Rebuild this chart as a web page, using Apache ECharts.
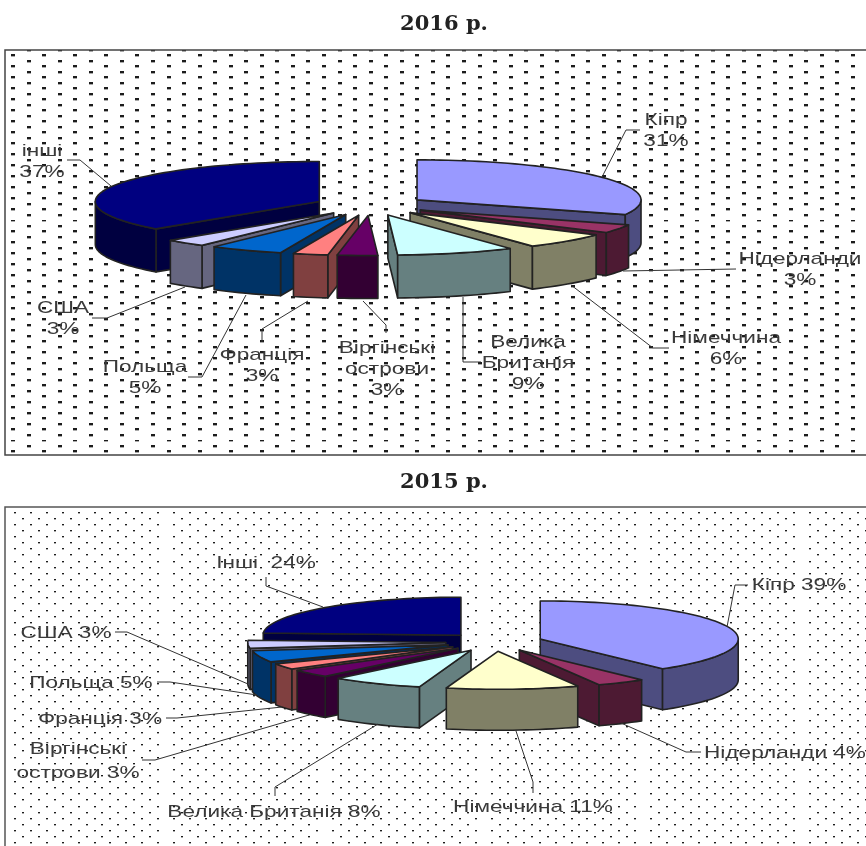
<!DOCTYPE html>
<html>
<head>
<meta charset="utf-8">
<style>
  html, body { margin: 0; padding: 0; background: #fff; }
  #chart { width: 866px; height: 846px; }
</style>
<script src="https://cdn.jsdelivr.net/npm/echarts@6/dist/echarts.min.js"></script>
</head>
<body>
<div id="chart"></div>
<script>
const categories = ["Кіпр", "Нідерланди", "Німеччина", "Велика Британія", "Віргінські острови", "Франція", "Польща", "США", "Інші"];
const values2016 = [31, 3.4, 6.4, 8.5, 2.9, 2.5, 5.3, 3, 37];
const values2015 = [39.4, 4, 10.8, 7.5, 3.4, 2.5, 4.9, 3.4, 24.1];
const topColors = ["#9999ff", "#993366", "#ffffcc", "#ccffff", "#660066", "#ff8080", "#0066cc", "#ccccff", "#000080"];
const wallColors = ["#4d4d80", "#4d1a33", "#808066", "#668080", "#330033", "#804040", "#003366", "#666680", "#000040"];

const labels2016 = ["Кіпр", "Нідерланди", "Німеччина", "Велика\nБританія", "Віргінські\nострови", "Франція", "Польща", "США", "інші"];
const labels2015 = ["Кіпр", "Нідерланди", "Німеччина", "Велика Британія", "Віргінські\nострови", "Франція", "Польща", "США", "Інші "];

// pie geometry of each panel
const pie2016 = { cx: 370.7, cy: 205.5, rx: 224, ry: 40, blast: 56, depth: 43 };
const pie2015 = { cx: 494.3, cy: 642, rx: 198, ry: 38, blast: 48.6, depth: 41 };

// label centres, [x, y of the block middle]
const labelPos2016 = [[666, 131], [800, 270], [726, 349], [528, 363], [387, 369], [262, 366], [145, 378], [63, 319], [42, 162]];
const labelPos2015 = [[799, 585], [785, 753], [533, 807], [274, 812], [78, 761], [100, 719], [91, 683], [66, 633], [266, 563]];

const leaders2016 = [
  [[640, 130], [626, 130], [602, 177]],
  [[736, 269], [623, 271]],
  [[669, 348], [653, 348], [571, 285]],
  [[481, 362], [463, 362], [463, 297]],
  [[386, 333], [386, 325], [363, 301]],
  [[262, 342], [262, 329], [308, 301]],
  [[188, 377], [202, 377], [246, 295]],
  [[92, 318], [107, 318], [185, 287]],
  [[67, 160], [80, 160], [111, 186]],
];
const leaders2015 = [
  [[748, 585], [735, 585], [727, 627]],
  [[701, 752], [686, 752], [621, 723]],
  [[533, 793], [533, 782], [516, 731]],
  [[275, 796], [275, 787], [378, 724]],
  [[142, 760], [155, 760], [309, 715]],
  [[166, 718], [177, 718], [282, 707]],
  [[157, 682], [170, 682], [257, 695]],
  [[115, 632], [127, 632], [248, 684]],
  [[266, 577], [266, 586], [323, 607]],
];

const LINE = "#222";
const TEXT = "#3a3a3a";
const rad = (d) => (d * Math.PI) / 180;

// staggered dot fill, drawn on one big tile so fractional spacing stays right
function dotTile(w, h, stepX, stepY, x0, y0, dw, dh) {
  const c = document.createElement("canvas");
  c.width = w;
  c.height = h;
  const ctx = c.getContext("2d");
  let row = 0;
  for (let y = y0; y < h; y += stepY / 2, row++) {
    const off = row % 2 ? stepX / 2 : 0;
    for (let x = x0 + off; x < w; x += stepX) {
      const px = Math.round(x - dw / 2);
      const py = Math.round(y - dh / 2);
      // soft rim like the scanned original
      ctx.fillStyle = "#aaa";
      ctx.fillRect(px, py, dw, dh + 1);
      ctx.fillStyle = "#1c1c1c";
      ctx.fillRect(px, py, dw, dh);
    }
  }
  return c;
}

function slices(values) {
  const total = values.reduce((a, b) => a + b, 0);
  let acc = 0;
  return values.map((v, i) => {
    const start = (acc / total) * 360;
    acc += v;
    const end = (acc / total) * 360;
    return { i, start, end, mid: (start + end) / 2 };
  });
}

function arc(pie, ax, ay, from, to) {
  const pts = [];
  const n = Math.max(2, Math.ceil((to - from) / 2));
  for (let k = 0; k <= n; k++) {
    const a = rad(from + ((to - from) * k) / n);
    pts.push([ax + pie.rx * Math.sin(a), ay - pie.ry * Math.cos(a)]);
  }
  return pts;
}

function wedgeSeries(values, pie) {
  const all = slices(values);
  // back slices first so the front ones cover them
  const order = all.slice().sort((a, b) => Math.abs(b.mid - 180) - Math.abs(a.mid - 180));
  return {
    type: "custom",
    coordinateSystem: "none",
    silent: true,
    z: 2,
    data: order.map((s) => [s.i, values[s.i]]),
    renderItem: (params) => {
      const s = order[params.dataIndex];
      const m = rad(s.mid);
      const ax = pie.cx + pie.blast * Math.sin(m);
      const ay = pie.cy - (pie.blast * pie.ry * Math.cos(m)) / pie.rx;
      const wall = { fill: wallColors[s.i], stroke: LINE, lineWidth: 1.6, lineJoin: "round" };
      const down = (p) => [p[0], p[1] + pie.depth];
      const children = [];
      const face = (pts) => children.push({ type: "polygon", shape: { points: pts }, style: wall });
      const rim = arc(pie, ax, ay, s.start, s.end);
      if (s.start > 180) face([[ax, ay], rim[0], down(rim[0]), [ax, ay + pie.depth]]);
      if (s.end < 180) {
        const last = rim[rim.length - 1];
        face([[ax, ay], last, down(last), [ax, ay + pie.depth]]);
      }
      const from = Math.max(s.start, 90);
      const to = Math.min(s.end, 270);
      if (to > from) {
        const front = arc(pie, ax, ay, from, to);
        face(front.concat(front.map(down).reverse()));
      }
      children.push({
        type: "polygon",
        shape: { points: [[ax, ay]].concat(rim) },
        style: { fill: topColors[s.i], stroke: LINE, lineWidth: 1.6, lineJoin: "round" },
      });
      return { type: "group", children };
    },
  };
}

function labelElements(texts, positions, leaders, lineHeight) {
  const out = [];
  leaders.forEach((pts) => {
    out.push({
      type: "polyline",
      z: 5,
      shape: { points: pts },
      style: { stroke: "#333", lineWidth: 1, fill: null },
    });
  });
  texts.forEach((t, i) => {
    out.push({
      type: "text",
      z: 6,
      x: positions[i][0],
      y: positions[i][1],
      scaleX: 1.33,
      style: {
        text: t,
        fill: TEXT,
        fontFamily: "Liberation Sans",
        fontSize: 17,
        lineHeight: lineHeight,
        align: "center",
        verticalAlign: "middle",
      },
    });
  });
  return out;
}

const text2016 = labels2016.map((n, i) => n + "\n" + Math.round(values2016[i]) + "%");
const text2015 = labels2015.map((n, i) => n + " " + Math.round(values2015[i]) + "%");

const tile2016 = dotTile(311, 220, 31.1, 11, 13, 0, 4, 2);
const tile2015 = dotTile(159, 245, 15.9, 12.25, 15, -2.5, 2, 1);

const titleStyle = { fontFamily: "DejaVu Serif", fontWeight: "bold", fontSize: 21, color: "#222" };

const chart = echarts.init(document.getElementById("chart"), null, { renderer: "canvas" });
chart.setOption({
  animation: false,
  backgroundColor: "#fff",
  title: [
    { text: "2016 р.", left: 439, top: 9, textAlign: "center", textStyle: titleStyle },
    { text: "2015 р.", left: 439, top: 467, textAlign: "center", textStyle: titleStyle },
  ],
  graphic: {
    elements: [
      { type: "rect", z: 0, shape: { x: 5, y: 50, width: 880, height: 405 }, style: { fill: { image: tile2016, repeat: "repeat" }, stroke: "#444", lineWidth: 1.5 } },
      { type: "rect", z: 0, shape: { x: 5, y: 507, width: 880, height: 360 }, style: { fill: { image: tile2015, repeat: "repeat" }, stroke: "#555", lineWidth: 1.5 } },
    ]
      .concat(labelElements(text2016, labelPos2016, leaders2016, 21))
      .concat(labelElements(text2015, labelPos2015, leaders2015, 24)),
  },
  series: [wedgeSeries(values2016, pie2016), wedgeSeries(values2015, pie2015)],
});
</script>
</body>
</html>
